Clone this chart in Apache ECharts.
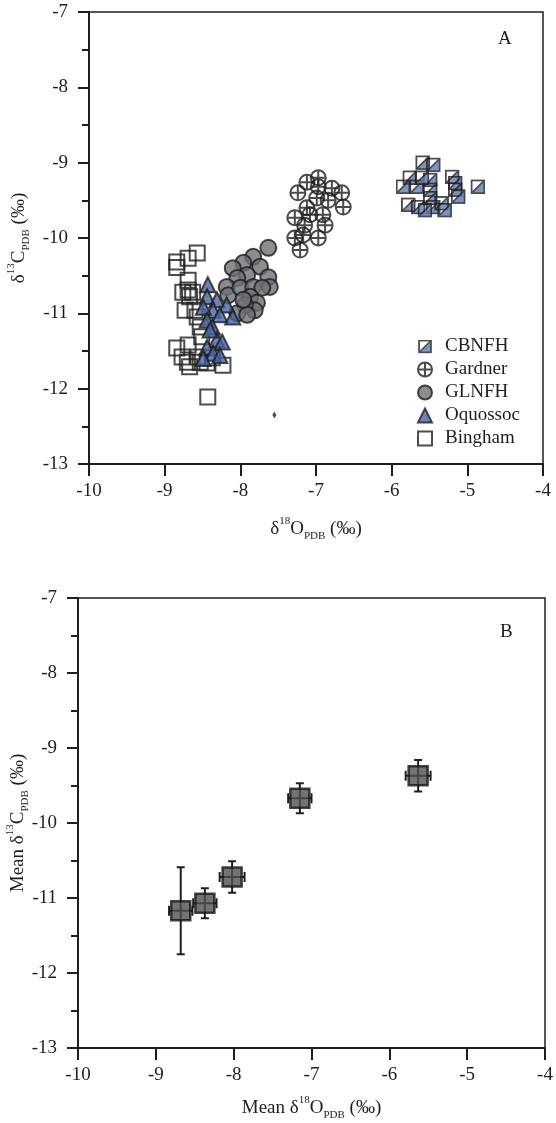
<!DOCTYPE html>
<html>
<head>
<meta charset="utf-8">
<script src="https://cdn.jsdelivr.net/npm/echarts@6/dist/echarts.min.js"></script>
<style>
  html, body { margin: 0; padding: 0; background: #fff; }
  #main { width: 556px; height: 1123px; }
</style>
</head>
<body>
<div id="main"></div>
<script>
// panel A: individual samples (d18O, d13C)
const cbnfhX = [-5.59, -5.45, -5.76, -5.85, -5.67, -5.49, -5.49, -5.20, -5.16, -5.16, -5.12, -4.86, -5.78, -5.65, -5.49, -5.45, -5.34, -5.30, -5.56, -5.60];
const cbnfhY = [-9.00, -9.03, -9.20, -9.32, -9.32, -9.23, -9.36, -9.19, -9.27, -9.36, -9.45, -9.32, -9.56, -9.59, -9.47, -9.59, -9.54, -9.63, -9.63, -9.20];
const gardnerX = [-7.12, -6.97, -6.97, -7.24, -6.79, -6.66, -6.99, -6.84, -6.64, -7.12, -7.28, -7.08, -6.91, -7.15, -6.88, -7.28, -7.17, -6.97, -7.21];
const gardnerY = [-9.26, -9.20, -9.32, -9.40, -9.34, -9.40, -9.47, -9.50, -9.59, -9.60, -9.73, -9.69, -9.69, -9.83, -9.83, -10.00, -9.96, -10.00, -10.16];
const glnfhX = [-7.63, -7.83, -7.96, -8.10, -7.74, -7.63, -7.61, -7.91, -8.04, -8.18, -8.16, -8.00, -7.83, -7.71, -7.87, -7.78, -7.81, -7.94, -8.04, -7.91, -7.96];
const glnfhY = [-10.13, -10.25, -10.33, -10.40, -10.38, -10.52, -10.65, -10.49, -10.53, -10.65, -10.76, -10.66, -10.65, -10.66, -10.78, -10.86, -10.96, -10.89, -11.00, -11.02, -10.82];
const oquossocX = [-8.43, -8.44, -8.31, -8.18, -8.36, -8.49, -8.27, -8.10, -8.44, -8.37, -8.31, -8.24, -8.44, -8.36, -8.27, -8.49, -8.40];
const oquossocY = [-10.62, -10.78, -10.82, -10.89, -10.96, -10.92, -11.02, -11.05, -11.09, -11.18, -11.35, -11.38, -11.45, -11.53, -11.56, -11.60, -11.22];
const binghamX = [-8.57, -8.69, -8.84, -8.84, -8.69, -8.69, -8.76, -8.63, -8.67, -8.73, -8.60, -8.57, -8.53, -8.51, -8.84, -8.69, -8.77, -8.70, -8.67, -8.53, -8.44, -8.56, -8.37, -8.23, -8.43];
const binghamY = [-10.20, -10.27, -10.32, -10.39, -10.56, -10.69, -10.72, -10.72, -10.78, -10.96, -10.96, -11.05, -11.18, -11.31, -11.46, -11.42, -11.58, -11.65, -11.71, -11.65, -11.66, -11.58, -11.59, -11.69, -12.11];
const markX = [-7.55];
const markY = [-12.35];

// panel B: group means with error bars
const meanX = [-8.68, -8.37, -8.02, -7.15, -5.63];
const meanY = [-11.17, -11.07, -10.72, -9.67, -9.37];
const errX = [0.15, 0.15, 0.16, 0.15, 0.16];
const errY = [0.58, 0.20, 0.21, 0.20, 0.21];

const zip = (xs, ys) => xs.map((x, i) => [x, ys[i]]);

const FONT = "Liberation Serif";
const INK = "#1e1e1e";

// half-filled square used for CBNFH
const cbnfhSvg =
  "<svg xmlns='http://www.w3.org/2000/svg' width='40' height='40' viewBox='0 0 40 40'>" +
  "<path d='M37 3L37 37L3 37Z' fill='#5b7cb3'/>" +
  "<rect x='3' y='3' width='34' height='34' fill='none' stroke='#1e1e1e' stroke-width='5'/>" +
  "<path d='M3 37L37 3' stroke='#1e1e1e' stroke-width='4.5'/></svg>";
const cbnfhSymbol = "image://data:image/svg+xml;charset=utf-8," + encodeURIComponent(cbnfhSvg);
const gardnerSymbol = "path://M0,10A10,10 0 1,1 20,10A10,10 0 1,1 0,10Z M10,0V20 M0,10H20";

function nameRich(prefix, letter, sup) {
  return {
    text: prefix + "{d|δ}{sup|" + sup + "}{t|" + letter + "}{sub|PDB}{t| (‰)}",
    rich: {
      d: { fontFamily: FONT, fontSize: 19, color: INK, lineHeight: 26 },
      t: { fontFamily: FONT, fontSize: 19, color: INK, lineHeight: 26 },
      sup: { fontFamily: FONT, fontSize: 11, color: INK, verticalAlign: "top", lineHeight: 12 },
      sub: { fontFamily: FONT, fontSize: 11, color: INK, verticalAlign: "bottom", lineHeight: 12 }
    }
  };
}

function xAxis(idx, nm, gap) {
  return {
    type: "value", gridIndex: idx, min: -10, max: -4, interval: 1,
    name: nm.text, nameLocation: "middle", nameGap: gap, nameMoveOverlap: false,
    nameTextStyle: { fontFamily: FONT, fontSize: 19, color: INK, rich: nm.rich },
    axisLine: { onZero: false, lineStyle: { color: INK, width: 2 } },
    axisTick: { length: 12, lineStyle: { color: INK, width: 2 } },
    axisLabel: { fontFamily: FONT, fontSize: 19, color: INK, margin: 18 },
    splitLine: { show: false }
  };
}

function yAxis(idx, nm, gap) {
  return {
    type: "value", gridIndex: idx, min: -13, max: -7, interval: 1,
    name: nm.text, nameLocation: "middle", nameGap: gap, nameMoveOverlap: false,
    nameTextStyle: { fontFamily: FONT, fontSize: 19, color: INK, rich: nm.rich },
    axisLine: { onZero: false, lineStyle: { color: INK, width: 2 } },
    axisTick: { length: 11, lineStyle: { color: INK, width: 2 } },
    minorTick: { show: true, splitNumber: 2, length: 7, lineStyle: { color: INK, width: 2 } },
    axisLabel: { fontFamily: FONT, fontSize: 19, color: INK, margin: 21 },
    splitLine: { show: false }
  };
}

const chart = echarts.init(document.getElementById("main"));

chart.setOption({
  animation: false,
  backgroundColor: "#fff",
  grid: [
    { left: 89, top: 12, width: 454, height: 452, outerBoundsMode: "none", containLabel: false,
      show: true, borderColor: INK, borderWidth: 1.5 },
    { left: 78, top: 598, width: 467, height: 450, outerBoundsMode: "none", containLabel: false,
      show: true, borderColor: INK, borderWidth: 1.5 }
  ],
  xAxis: [
    xAxis(0, nameRich("", "O", "18"), 52),
    xAxis(1, nameRich("{t|Mean }", "O", "18"), 47)
  ],
  yAxis: [
    yAxis(0, nameRich("", "C", "13"), 57),
    yAxis(1, nameRich("{t|Mean }", "C", "13"), 47)
  ],
  legend: {
    data: ["CBNFH", "Gardner", "GLNFH", "Oquossoc", "Bingham"],
    orient: "vertical",
    left: 412, top: 332,
    itemWidth: 14, itemHeight: 14, itemGap: 4,
    textStyle: { fontFamily: FONT, fontSize: 19, color: INK, padding: [0, 0, 0, 8] }
  },
  graphic: [
    { type: "text", left: 498, top: 30, style: { text: "A", fontFamily: FONT, fontSize: 19, fill: INK } },
    { type: "text", left: 500, top: 623, style: { text: "B", fontFamily: FONT, fontSize: 19, fill: INK } }
  ],
  series: [
    {
      name: "Gardner", type: "scatter", xAxisIndex: 0, yAxisIndex: 0,
      symbol: gardnerSymbol, symbolSize: 15,
      itemStyle: { color: "rgba(255,255,255,0)", borderColor: INK, borderWidth: 2 },
      data: zip(gardnerX, gardnerY)
    },
    {
      name: "CBNFH", type: "scatter", xAxisIndex: 0, yAxisIndex: 0,
      symbol: cbnfhSymbol, symbolSize: 15,
      data: zip(cbnfhX, cbnfhY)
    },
    {
      name: "GLNFH", type: "scatter", xAxisIndex: 0, yAxisIndex: 0,
      symbol: "circle", symbolSize: 16,
      itemStyle: { color: "#6d7175", borderColor: INK, borderWidth: 2 },
      data: zip(glnfhX, glnfhY)
    },
    {
      name: "Bingham", type: "scatter", xAxisIndex: 0, yAxisIndex: 0,
      symbol: "rect", symbolSize: 15,
      itemStyle: { color: "rgba(255,255,255,0)", borderColor: INK, borderWidth: 2 },
      data: zip(binghamX, binghamY)
    },
    {
      name: "Oquossoc", type: "scatter", xAxisIndex: 0, yAxisIndex: 0,
      symbol: "triangle", symbolSize: 15,
      itemStyle: { color: "#4565a5", borderColor: INK, borderWidth: 2 },
      data: zip(oquossocX, oquossocY)
    },
    {
      name: "mark", type: "scatter", xAxisIndex: 0, yAxisIndex: 0,
      symbol: "diamond", symbolSize: [4, 7],
      itemStyle: { color: INK },
      data: zip(markX, markY)
    },
    {
      // error bars, drawn under the mean squares
      name: "err", type: "custom", xAxisIndex: 1, yAxisIndex: 1,
      data: meanX.map((x, i) => [x, meanY[i], errX[i], errY[i]]),
      encode: { x: 0, y: 1 },
      renderItem: function (params, api) {
        const x = api.value(0), y = api.value(1), ex = api.value(2), ey = api.value(3);
        const l = api.coord([x - ex, y]), r = api.coord([x + ex, y]);
        const t = api.coord([x, y + ey]), b = api.coord([x, y - ey]);
        const st = { stroke: INK, lineWidth: 2 };
        const line = (x1, y1, x2, y2) => ({ type: "line", shape: { x1: x1, y1: y1, x2: x2, y2: y2 }, style: st });
        return {
          type: "group",
          children: [
            line(l[0], l[1], r[0], r[1]),
            line(t[0], t[1], b[0], b[1]),
            line(l[0], l[1] - 5, l[0], l[1] + 5),
            line(r[0], r[1] - 5, r[0], r[1] + 5),
            line(t[0] - 4, t[1], t[0] + 4, t[1]),
            line(b[0] - 4, b[1], b[0] + 4, b[1])
          ]
        };
      }
    },
    {
      name: "mean", type: "scatter", xAxisIndex: 1, yAxisIndex: 1, z: 5,
      symbol: "rect", symbolSize: 19,
      itemStyle: { color: "#505050", borderColor: "#161616", borderWidth: 2.5 },
      data: zip(meanX, meanY)
    }
  ]
});
</script>
</body>
</html>
